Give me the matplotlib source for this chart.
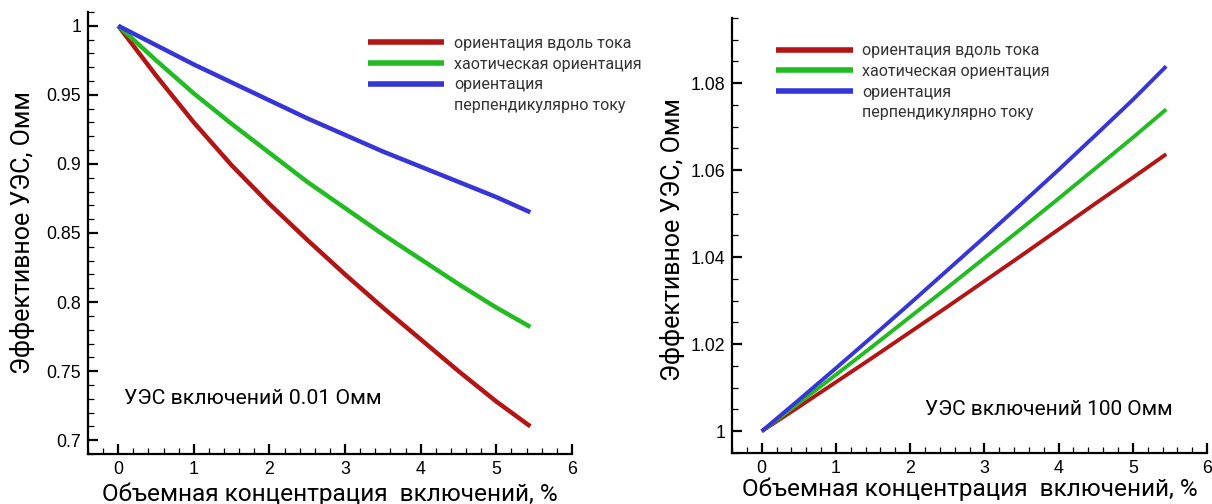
import matplotlib
matplotlib.use("Agg")
import matplotlib.pyplot as plt
from matplotlib.lines import Line2D
from matplotlib.ticker import MultipleLocator

plt.rcParams['font.family'] = ['Roboto', 'DejaVu Sans']

# volume concentration of inclusions, %
conc = [0, 0.5, 1, 1.5, 2, 2.5, 3, 3.5, 4, 4.5, 5, 5.45]

# left panel: inclusions 0.01 Ohm*m
low_along = [1.0, 0.964, 0.930, 0.899, 0.871, 0.845, 0.820, 0.796, 0.773, 0.750, 0.728, 0.710]
low_chaos = [1.0, 0.975, 0.951, 0.929, 0.908, 0.887, 0.868, 0.849, 0.831, 0.813, 0.796, 0.782]
low_perp = [1.0, 0.986, 0.972, 0.959, 0.946, 0.933, 0.921, 0.909, 0.898, 0.887, 0.876, 0.865]

# right panel: inclusions 100 Ohm*m
high_along = [1.0, 1.0056, 1.0113, 1.0170, 1.0228, 1.0286, 1.0345, 1.0404, 1.0464, 1.0524, 1.0583, 1.0637]
high_chaos = [1.0, 1.0065, 1.0130, 1.0196, 1.0263, 1.0330, 1.0398, 1.0466, 1.0535, 1.0605, 1.0675, 1.0740]
high_perp = [1.0, 1.0072, 1.0145, 1.0219, 1.0294, 1.0370, 1.0446, 1.0523, 1.0601, 1.0681, 1.0762, 1.0839]

labels = ['ориентация вдоль тока', 'хаотическая ориентация', 'ориентация', 'перпендикулярно току']
colors = ['#b31515', '#22bb22', '#3535d8']

xlabel = 'Объемная концентрация  включений, %'
ylabel = 'Эффективное УЭС, Омм'

fig = plt.figure(figsize=(12.12, 5.04), dpi=100)
ax1 = fig.add_axes([0.0726, 0.0992, 0.3993, 0.8770])
ax2 = fig.add_axes([0.6040, 0.1012, 0.3919, 0.8631])


def style_axes(ax, ylim, ymajor, yminor, lbl_x, lbl_y, xl_y):
    ax.set_xlim(-0.4, 6)
    ax.set_ylim(*ylim)
    for s in ('top', 'right'):
        ax.spines[s].set_visible(False)
    for s in ('left', 'bottom'):
        ax.spines[s].set_linewidth(1.6)
    ax.xaxis.set_major_locator(MultipleLocator(1))
    ax.xaxis.set_minor_locator(MultipleLocator(0.2))
    ax.yaxis.set_major_locator(MultipleLocator(ymajor))
    ax.yaxis.set_minor_locator(MultipleLocator(yminor))
    ax.tick_params(which='major', direction='in', length=7.5, width=1.6, pad=5)
    ax.tick_params(which='minor', direction='in', length=4, width=0.9)
    for t in ax.get_xticklabels() + ax.get_yticklabels():
        t.set_family('Liberation Sans')
        t.set_fontsize(12.8)
    ax.set_xlabel(xlabel, fontsize=17.6, va='baseline')
    ax.xaxis.set_label_coords(0.5, xl_y)
    ax.set_ylabel(ylabel, fontsize=18, va='center')
    ax.yaxis.set_label_coords(lbl_x, lbl_y)
    ax.yaxis.set_major_formatter(plt.FuncFormatter(lambda v, p: f'{v:g}'))


def add_legend(ax, lines, x, y):
    handles = list(lines) + [Line2D([], [], color='none')]
    leg = ax.legend(handles, labels, loc='upper left', bbox_to_anchor=(x, y),
                    frameon=False, fontsize=11.5, handlelength=4.8,
                    handletextpad=0.6, labelspacing=0.36, borderpad=0,
                    borderaxespad=0)
    for t in leg.get_texts():
        t.set_color('#333333')
    for h in leg.get_lines():
        h.set_linewidth(4)


l1 = [ax1.plot(conc, y, color=c, lw=3.2, solid_capstyle='butt')[0]
      for y, c in zip([low_along, low_chaos, low_perp], colors)]
style_axes(ax1, (0.69, 1.01), 0.05, 0.01, -0.136, 0.5, -0.106)
add_legend(ax1, l1, 0.578, 0.946)
ax1.text(0.074, 0.125, 'УЭС включений 0.01 Омм', transform=ax1.transAxes,
         fontsize=15.3, va='center', ha='left')

l2 = [ax2.plot(conc, y, color=c, lw=2.8, solid_capstyle='butt')[0]
      for y, c in zip([high_along, high_chaos, high_perp], colors)]
style_axes(ax2, (0.995, 1.095), 0.02, 0.005, -0.126, 0.49, -0.099)
add_legend(ax2, l2, 0.0926, 0.942)
ax2.text(0.406, 0.101, 'УЭС включений 100 Омм', transform=ax2.transAxes,
         fontsize=15, va='center', ha='left')

fig.savefig('out.png', dpi=100)
